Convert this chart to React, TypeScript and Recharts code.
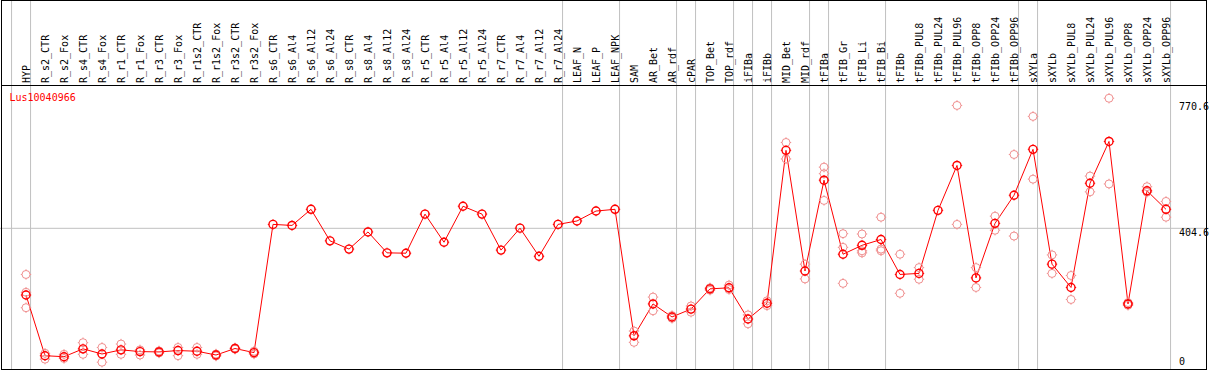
import { ComposedChart, Line, XAxis, YAxis, ReferenceLine } from "recharts";

const categories = [
  "HYP", "R_s2_CTR", "R_s2_Fox", "R_s4_CTR", "R_s4_Fox", "R_r1_CTR", "R_r1_Fox", "R_r3_CTR", "R_r3_Fox",
  "R_r1s2_CTR", "R_r1s2_Fox", "R_r3s2_CTR", "R_r3s2_Fox",
  "R_s6_CTR", "R_s6_Al4", "R_s6_Al12", "R_s6_Al24", "R_s8_CTR", "R_s8_Al4", "R_s8_Al12", "R_s8_Al24",
  "R_r5_CTR", "R_r5_Al4", "R_r5_Al12", "R_r5_Al24", "R_r7_CTR", "R_r7_Al4", "R_r7_Al12", "R_r7_Al24",
  "LEAF_N", "LEAF_P", "LEAF_NPK", "SAM", "AR_Bet", "AR_rdf", "cPAR", "TOP_Bet", "TOP_rdf",
  "iFIBa", "iFIBb", "MID_Bet", "MID_rdf", "tFIBa", "tFIB_Gr", "tFIB_Li", "tFIB_Bi", "tFIBb",
  "tFIBb_PUL8", "tFIBb_PUL24", "tFIBb_PUL96", "tFIBb_OPP8", "tFIBb_OPP24", "tFIBb_OPP96",
  "sXYLa", "sXYLb", "sXYLb_PUL8", "sXYLb_PUL24", "sXYLb_PUL96", "sXYLb_OPP8", "sXYLb_OPP24", "sXYLb_OPP96",
];

const means = [
  210, 33, 30, 53, 38, 50, 45, 44, 48, 46, 35, 54, 42,
  416, 413, 460, 368, 344, 394, 333, 332, 446, 364, 469, 446, 341, 405, 323, 416,
  426, 455, 460, 91, 184, 146, 169, 228, 231, 140, 186, 632, 280, 545, 329, 355, 372, 270,
  273, 457, 588, 260, 419, 501, 635, 300, 232, 536, 658, 184, 514, 460,
];

type N = number | null;
const repA: N[] = [
  270, 40, 37, 71, 57, 67, 50, 47, 57, 57, 38, 56, 46,
  null, null, null, null, null, null, null, null, null, null, null, null, null, null, null, null,
  null, null, null, 105, 204, 150, 178, 231, 239, 152, 193, 655, 300, 583, 389, 388, 437, 329,
  290, null, 763, 290, 440, 620, 731, 327, 267, 557, 784, 188, 526, 483,
];
const repB: N[] = [
  218, 23, 25, 37, 14, 37, 35, 41, 33, 37, 32, 52, 38,
  null, null, null, null, null, null, null, null, null, null, null, null, null, null, null, null,
  null, null, null, 72, 164, 142, 160, 224, 226, 126, 179, 607, 257, 564, 349, 339, 344, 215,
  256, null, 416, 232, 399, 382, 548, 273, 197, 511, 534, 180, 510, 437,
];
const repC: N[] = [
  173, null, null, null, null, null, null, null, null, null, null, null, null,
  null, null, null, null, null, null, null, null, null, null, null, null, null, null, null, null,
  null, null, null, null, null, null, null, null, null, null, null, null, null, 486, 244, 333, 339, null,
  null, null, null, null, null, null, null, null, null, null, null, null, null, null,
];

// index of the last category in each group (a gray separator follows it)
const groupEnds = [-1, 0, 28, 31, 34, 35, 37, 38, 39, 41, 42, 45, 52, 53, 60];
const yTicks = [0, 404.6, 770.6];

const data = categories.map((c, i) => ({
  i, name: c, mean: means[i], a: repA[i], b: repB[i], c: repC[i],
}));

const MONO = "DejaVu Sans Mono";

function Marker(props: any, color: string, w: number) {
  const { cx, cy, value, index } = props;
  if (value == null || cy == null || isNaN(cy)) return <g key={index} />;
  const r = 4;
  const t = 5.2;
  return (
    <g key={index} stroke={color} strokeWidth={w} fill="none">
      <circle cx={cx} cy={cy} r={r} />
      <line x1={cx} y1={cy - t} x2={cx} y2={cy - r} strokeWidth={1} />
      <line x1={cx} y1={cy + r} x2={cx} y2={cy + t} strokeWidth={1} />
      <line x1={cx - t} y1={cy} x2={cx - r} y2={cy} strokeWidth={1} />
      <line x1={cx + r} y1={cy} x2={cx + t} y2={cy} strokeWidth={1} />
    </g>
  );
}

function CatTick(props: any) {
  const { x, payload } = props;
  return (
    <text transform={`translate(${x + 3.5},83) rotate(-90)`} textAnchor="start"
      fontFamily={MONO} fontSize={10} fill="#000">
      {categories[payload.value]}
    </text>
  );
}

function ValTick(props: any) {
  const { y, payload } = props;
  const by = payload.value === 0 ? y - 1.7 : y + 7.3;
  return (
    <text x={1179} y={by} fontFamily={MONO} fontSize={10} fill="#000">
      {payload.value}
    </text>
  );
}

export default function App() {
  const pink = "#f09090";
  return (
    <div style={{ position: "absolute", left: 0, top: 0, width: 1209, height: 370, background: "#fff" }}>
      <ComposedChart width={1209} height={370} data={data} margin={{ top: 0, right: 0, bottom: 1, left: 0 }}>
        <XAxis dataKey="i" type="number" orientation="top" mirror domain={[-26 / 19, 1183 / 19]}
          allowDataOverflow ticks={categories.map((_, i) => i)} interval={0}
          axisLine={false} tickLine={false} tick={<CatTick />} />
        <YAxis type="number" orientation="right" mirror domain={[-5.8, 1070.6]} allowDataOverflow
          ticks={yTicks} interval={0} axisLine={false} tickLine={false} tick={<ValTick />} />
        {groupEnds.map((g) => (
          <ReferenceLine key={g} x={g + 0.24} stroke="#c0c0c0" strokeWidth={1} ifOverflow="visible" />
        ))}
        <ReferenceLine y={404.6} stroke="#c0c0c0" strokeWidth={1} />
        <Line dataKey="a" stroke="none" isAnimationActive={false} dot={(p: any) => Marker(p, pink, 1)} activeDot={false} />
        <Line dataKey="b" stroke="none" isAnimationActive={false} dot={(p: any) => Marker(p, pink, 1)} activeDot={false} />
        <Line dataKey="c" stroke="none" isAnimationActive={false} dot={(p: any) => Marker(p, pink, 1)} activeDot={false} />
        <Line dataKey="mean" stroke="#ff0000" strokeWidth={1} isAnimationActive={false}
          dot={(p: any) => Marker(p, "#ff0000", 1.4)} activeDot={false} />
      </ComposedChart>
      <svg width={1209} height={370} style={{ position: "absolute", left: 0, top: 0, pointerEvents: "none" }}>
        <rect x={1.5} y={0.5} width={1205} height={369} fill="none" stroke="#000" strokeWidth={1} />
        <line x1={1} y1={85.5} x2={1207} y2={85.5} stroke="#000" strokeWidth={1} />
        <text x={9.5} y={100.5} fontFamily={MONO} fontSize={10} fill="#ff0000">Lus10040966</text>
      </svg>
    </div>
  );
}
